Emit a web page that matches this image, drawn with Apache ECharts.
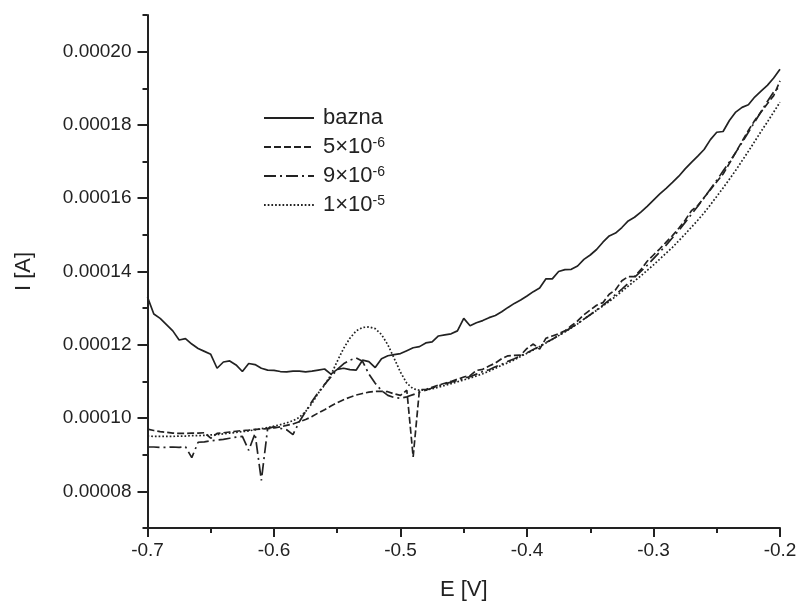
<!DOCTYPE html>
<html>
<head>
<meta charset="utf-8">
<title>I–E</title>
<script src="https://cdn.jsdelivr.net/npm/echarts@6/dist/echarts.min.js"></script>
<style>
  html, body { margin: 0; padding: 0; background: #fff; }
  #chart { width: 796px; height: 601px; }
</style>
</head>
<body>
<div id="chart"></div>
<script>
// Potential sweep, V
const potential = [
  -0.700,-0.695,-0.690,-0.685,-0.680,-0.675,-0.670,-0.665,-0.660,-0.655,
  -0.650,-0.645,-0.640,-0.635,-0.630,-0.625,-0.620,-0.615,-0.610,-0.605,
  -0.600,-0.595,-0.590,-0.585,-0.580,-0.575,-0.570,-0.565,-0.560,-0.555,
  -0.550,-0.545,-0.540,-0.535,-0.530,-0.525,-0.520,-0.515,-0.510,-0.505,
  -0.500,-0.495,-0.490,-0.485,-0.480,-0.475,-0.470,-0.465,-0.460,-0.455,
  -0.450,-0.445,-0.440,-0.435,-0.430,-0.425,-0.420,-0.415,-0.410,-0.405,
  -0.400,-0.395,-0.390,-0.385,-0.380,-0.375,-0.370,-0.365,-0.360,-0.355,
  -0.350,-0.345,-0.340,-0.335,-0.330,-0.325,-0.320,-0.315,-0.310,-0.305,
  -0.300,-0.295,-0.290,-0.285,-0.280,-0.275,-0.270,-0.265,-0.260,-0.255,
  -0.250,-0.245,-0.240,-0.235,-0.230,-0.225,-0.220,-0.215,-0.210,-0.205,
  -0.200
];

// Current, A — base electrolyte
const currentBazna = [
  13.30e-5,12.84e-5,12.72e-5,12.55e-5,12.38e-5,12.13e-5,12.17e-5,12.02e-5,11.90e-5,11.82e-5,
  11.74e-5,11.36e-5,11.53e-5,11.56e-5,11.45e-5,11.27e-5,11.49e-5,11.46e-5,11.36e-5,11.31e-5,
  11.30e-5,11.27e-5,11.26e-5,11.28e-5,11.28e-5,11.26e-5,11.28e-5,11.31e-5,11.34e-5,11.20e-5,
  11.33e-5,11.36e-5,11.32e-5,11.31e-5,11.58e-5,11.54e-5,11.38e-5,11.62e-5,11.70e-5,11.73e-5,
  11.76e-5,11.84e-5,11.92e-5,11.95e-5,12.05e-5,12.08e-5,12.24e-5,12.27e-5,12.30e-5,12.38e-5,
  12.72e-5,12.52e-5,12.60e-5,12.66e-5,12.74e-5,12.80e-5,12.90e-5,13.02e-5,13.13e-5,13.22e-5,
  13.33e-5,13.45e-5,13.55e-5,13.80e-5,13.80e-5,14.00e-5,14.05e-5,14.06e-5,14.15e-5,14.33e-5,
  14.45e-5,14.60e-5,14.80e-5,14.97e-5,15.05e-5,15.20e-5,15.38e-5,15.48e-5,15.62e-5,15.78e-5,
  15.95e-5,16.12e-5,16.27e-5,16.43e-5,16.60e-5,16.80e-5,16.98e-5,17.15e-5,17.33e-5,17.60e-5,
  17.80e-5,17.82e-5,18.12e-5,18.35e-5,18.48e-5,18.55e-5,18.76e-5,18.92e-5,19.08e-5,19.28e-5,
  19.52e-5
];

// Current, A — 5×10^-6
const current5e6 = [
  9.70e-5,9.66e-5,9.63e-5,9.61e-5,9.59e-5,9.58e-5,9.58e-5,9.59e-5,9.59e-5,9.60e-5,
  9.45e-5,9.58e-5,9.60e-5,9.62e-5,9.64e-5,9.66e-5,9.67e-5,9.69e-5,9.70e-5,9.71e-5,
  9.73e-5,9.76e-5,9.80e-5,9.84e-5,9.90e-5,9.96e-5,10.04e-5,10.14e-5,10.23e-5,10.33e-5,
  10.42e-5,10.50e-5,10.57e-5,10.63e-5,10.67e-5,10.71e-5,10.73e-5,10.73e-5,10.72e-5,10.66e-5,
  10.62e-5,10.76e-5,8.94e-5,10.78e-5,10.78e-5,10.84e-5,10.90e-5,10.95e-5,11.00e-5,11.06e-5,
  11.12e-5,11.16e-5,11.30e-5,11.33e-5,11.42e-5,11.50e-5,11.62e-5,11.70e-5,11.71e-5,11.72e-5,
  11.90e-5,12.02e-5,11.88e-5,12.18e-5,12.24e-5,12.30e-5,12.38e-5,12.52e-5,12.65e-5,12.82e-5,
  12.95e-5,13.08e-5,13.15e-5,13.38e-5,13.50e-5,13.75e-5,13.86e-5,13.86e-5,14.05e-5,14.28e-5,
  14.45e-5,14.62e-5,14.80e-5,14.98e-5,15.18e-5,15.40e-5,15.66e-5,15.80e-5,16.02e-5,16.23e-5,
  16.45e-5,16.66e-5,16.95e-5,17.25e-5,17.55e-5,17.85e-5,18.12e-5,18.35e-5,18.58e-5,18.80e-5,
  19.20e-5
];

// Current, A — 9×10^-6
const current9e6 = [
  9.21e-5,9.21e-5,9.20e-5,9.20e-5,9.21e-5,9.20e-5,9.22e-5,8.92e-5,9.34e-5,9.35e-5,
  9.38e-5,9.40e-5,9.42e-5,9.45e-5,9.48e-5,9.50e-5,9.12e-5,9.58e-5,8.30e-5,9.72e-5,
  9.76e-5,9.72e-5,9.68e-5,9.55e-5,9.90e-5,10.18e-5,10.45e-5,10.70e-5,10.92e-5,11.12e-5,
  11.33e-5,11.48e-5,11.58e-5,11.64e-5,11.55e-5,11.20e-5,10.95e-5,10.75e-5,10.62e-5,10.56e-5,
  10.54e-5,10.58e-5,10.64e-5,10.70e-5,10.76e-5,10.82e-5,10.88e-5,10.93e-5,10.98e-5,11.03e-5,
  11.08e-5,11.13e-5,11.20e-5,11.27e-5,11.32e-5,11.40e-5,11.47e-5,11.55e-5,11.62e-5,11.70e-5,
  11.78e-5,11.87e-5,11.96e-5,12.06e-5,12.15e-5,12.25e-5,12.36e-5,12.47e-5,12.58e-5,12.70e-5,
  12.82e-5,12.95e-5,13.08e-5,13.22e-5,13.37e-5,13.52e-5,13.68e-5,13.84e-5,14.00e-5,14.17e-5,
  14.35e-5,14.53e-5,14.72e-5,14.92e-5,15.12e-5,15.34e-5,15.56e-5,15.78e-5,16.01e-5,16.25e-5,
  16.49e-5,16.74e-5,16.99e-5,17.25e-5,17.52e-5,17.80e-5,18.08e-5,18.36e-5,18.64e-5,18.90e-5,
  19.05e-5
];

// Current, A — 1×10^-5
const current1e5 = [
  9.51e-5,9.50e-5,9.50e-5,9.50e-5,9.50e-5,9.51e-5,9.51e-5,9.52e-5,9.52e-5,9.53e-5,
  9.54e-5,9.55e-5,9.57e-5,9.59e-5,9.61e-5,9.63e-5,9.65e-5,9.68e-5,9.71e-5,9.74e-5,
  9.78e-5,9.82e-5,9.87e-5,9.93e-5,10.02e-5,10.18e-5,10.40e-5,10.68e-5,10.90e-5,11.18e-5,
  11.55e-5,11.90e-5,12.18e-5,12.38e-5,12.47e-5,12.49e-5,12.44e-5,12.28e-5,12.00e-5,11.63e-5,
  11.25e-5,10.95e-5,10.80e-5,10.76e-5,10.76e-5,10.80e-5,10.84e-5,10.89e-5,10.94e-5,10.99e-5,
  11.04e-5,11.09e-5,11.15e-5,11.21e-5,11.28e-5,11.36e-5,11.44e-5,11.51e-5,11.59e-5,11.68e-5,
  11.77e-5,11.86e-5,11.95e-5,12.05e-5,12.15e-5,12.25e-5,12.35e-5,12.46e-5,12.57e-5,12.70e-5,
  12.82e-5,12.94e-5,13.06e-5,13.18e-5,13.32e-5,13.46e-5,13.60e-5,13.74e-5,13.88e-5,14.03e-5,
  14.18e-5,14.34e-5,14.50e-5,14.66e-5,14.84e-5,15.02e-5,15.21e-5,15.40e-5,15.60e-5,15.82e-5,
  16.05e-5,16.28e-5,16.52e-5,16.76e-5,17.02e-5,17.28e-5,17.55e-5,17.82e-5,18.08e-5,18.35e-5,
  18.62e-5
];

const seriesNames = ['bazna', '5×10-6', '9×10-6', '1×10-5'];
const yMajorTicks = [0.00008, 0.00010, 0.00012, 0.00014, 0.00016, 0.00018, 0.00020];
const yMinorTicks = [0.00007, 0.00009, 0.00011, 0.00013, 0.00015, 0.00017, 0.00019, 0.00021];

const FONT = '"Liberation Sans", Arial, sans-serif';
const INK = '#222222';

function pairs(ys) {
  return potential.map((e, i) => [e, ys[i]]);
}

function lineSeries(name, ys, dash) {
  return {
    name: name,
    type: 'line',
    data: pairs(ys),
    symbol: 'none',
    showSymbol: false,
    silent: true,
    animation: false,
    lineStyle: { color: INK, width: 1.7, type: dash },
    itemStyle: { color: INK }
  };
}

const chart = echarts.init(document.getElementById('chart'), null, { renderer: 'canvas' });

chart.setOption({
  backgroundColor: '#ffffff',
  animation: false,
  textStyle: { fontFamily: FONT, color: INK },
  grid: { left: 147.5, right: 16, top: 15, bottom: 73, containLabel: false, outerBoundsMode: 'none' },
  legend: {
    data: seriesNames,
    orient: 'vertical',
    left: 263,
    top: 107,
    padding: 0,
    itemWidth: 50,
    itemHeight: 14,
    itemGap: 7,
    selectedMode: false,
    itemStyle: { opacity: 0 },
    formatter: function (name) {
      return name.replace(/×10(-\d+)/, '×10{sup|$1}');
    },
    textStyle: {
      fontFamily: FONT,
      fontSize: 22,
      lineHeight: 22,
      color: INK,
      padding: [0, 0, 0, 4],
      rich: {
        sup: { fontFamily: FONT, fontSize: 14, lineHeight: 10, verticalAlign: 'top', color: INK }
      }
    }
  },
  xAxis: {
    type: 'value',
    min: -0.7,
    max: -0.2,
    interval: 0.1,
    name: 'E [V]',
    nameLocation: 'middle',
    nameGap: 51,
    nameTextStyle: { fontFamily: FONT, fontSize: 22, color: INK },
    axisLine: { onZero: false, lineStyle: { color: INK, width: 2 } },
    axisTick: { show: true, inside: false, length: 9, lineStyle: { color: INK, width: 2 } },
    minorTick: { show: true, splitNumber: 2, length: 5, lineStyle: { color: INK, width: 2 } },
    axisLabel: {
      margin: 13,
      fontFamily: FONT,
      fontSize: 19,
      color: INK,
      formatter: v => v.toFixed(1)
    },
    splitLine: { show: false },
    minorSplitLine: { show: false }
  },
  yAxis: [
    {
      type: 'value',
      min: 0.00007,
      max: 0.00021,
      position: 'left',
      name: 'I [A]',
      nameLocation: 'middle',
      nameGap: 113,
      nameTextStyle: { fontFamily: FONT, fontSize: 22, color: INK },
      axisLine: { show: true, onZero: false, lineStyle: { color: INK, width: 2 } },
      axisTick: { show: true, inside: false, length: 10, customValues: yMajorTicks, lineStyle: { color: INK, width: 2 } },
      axisLabel: {
        margin: 16,
        fontFamily: FONT,
        fontSize: 19,
        color: INK,
        customValues: yMajorTicks,
        formatter: v => v.toFixed(5)
      },
      splitLine: { show: false }
    },
    {
      type: 'value',
      min: 0.00007,
      max: 0.00021,
      position: 'left',
      axisLine: { show: false },
      axisTick: { show: true, inside: false, length: 5, customValues: yMinorTicks, lineStyle: { color: INK, width: 2 } },
      axisLabel: { show: false },
      splitLine: { show: false }
    }
  ],
  series: [
    lineSeries(seriesNames[0], currentBazna, 'solid'),
    lineSeries(seriesNames[1], current5e6, [7, 3]),
    lineSeries(seriesNames[2], current9e6, [12, 4, 2, 4]),
    lineSeries(seriesNames[3], current1e5, [1.7, 2])
  ]
});
</script>
</body>
</html>
